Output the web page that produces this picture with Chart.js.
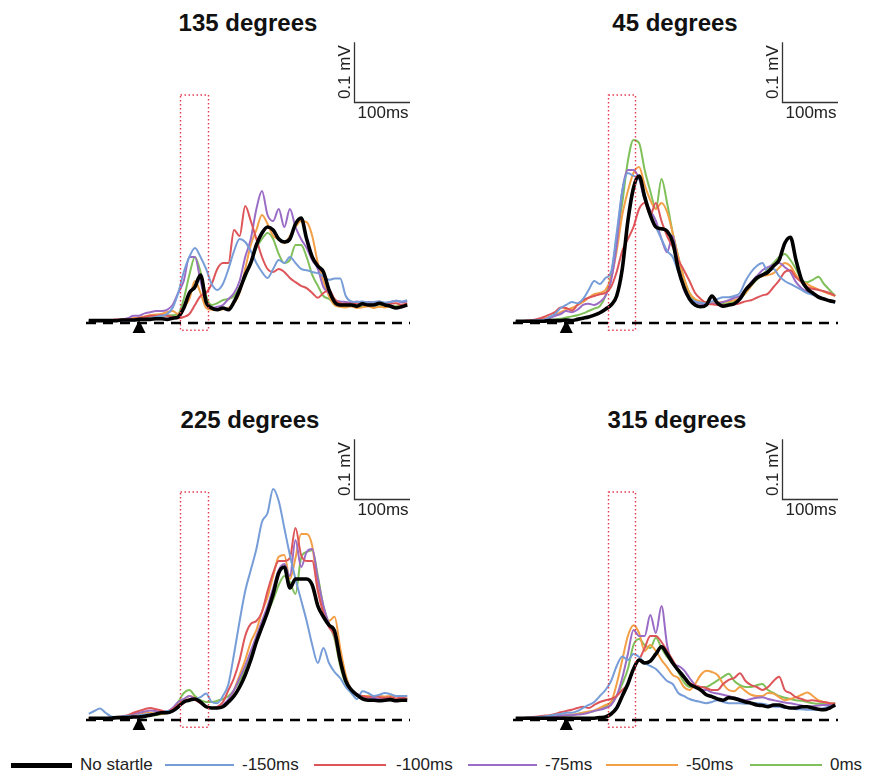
<!DOCTYPE html>
<html>
<head>
<meta charset="utf-8">
<script src="https://cdn.jsdelivr.net/npm/chart.js@4.4.1/dist/chart.umd.min.js"></script>
<style>
  body { margin: 0; background: #fff; }
  #page { position: relative; width: 889px; height: 780px; font-family: "Liberation Sans", Arial, sans-serif; }
  .title { position: absolute; width: 330px; text-align: center; font-weight: bold; font-size: 24px; line-height: 24px; color: #111; }
  canvas { position: absolute; }
  .leg-line { position: absolute; height: 2px; }
  .leg-text { position: absolute; font-size: 17px; line-height: 20px; color: #222; }
</style>
</head>
<body>
<div id="page">
  <div class="title" style="left:83px;top:11px">135 degrees</div>
  <div class="title" style="left:510px;top:11px">45 degrees</div>
  <div class="title" style="left:85px;top:408px">225 degrees</div>
  <div class="title" style="left:512px;top:408px">315 degrees</div>
  <canvas id="c135" width="324" height="315" style="left:86px;top:30px"></canvas>
  <canvas id="c45" width="325" height="315" style="left:513px;top:30px"></canvas>
  <canvas id="c225" width="324" height="315" style="left:86px;top:427px"></canvas>
  <canvas id="c315" width="325" height="315" style="left:513px;top:427px"></canvas>
  <div id="legend"></div>
</div>
<script>
// time axis (ms, stimulus at 0)
var timesMs = [-90,-80,-70,-60,-50,-40,-30,-20,-10,0,10,20,30,40,50,60,70,80,90,100,110,120,130,140,150,160,170,180,190,200,
  210,220,230,240,250,260,270,280,290,300,310,320,330,340,350,360,370,380,390,400,410,420,430,440,450,460,470,480];

var seriesNames = ['No startle', '-150ms', '-100ms', '-75ms', '-50ms', '0ms'];
var seriesColors = ['#000000', '#769dd8', '#de5559', '#9a6cc6', '#f39f45', '#80c05a'];

var startleWindowMs = [74, 123];
var scaleBarMs = [385, 485];
var scaleBarMv = [0.368, 0.468];

// EMG traces in mV, one array per condition
// 135 degrees
var p135_none = [0.004,0.004,0.004,0.004,0.004,0.004,0.005,0.005,0.005,0.006,0.006,0.006,0.007,0.007,0.006,0.008,0.010,0.025,0.050,0.060,
  0.080,0.035,0.025,0.022,0.025,0.022,0.035,0.055,0.080,0.100,0.130,0.150,0.160,0.155,0.140,0.135,0.140,0.165,0.175,0.140,
  0.110,0.095,0.085,0.055,0.035,0.030,0.030,0.030,0.028,0.032,0.030,0.030,0.033,0.030,0.028,0.025,0.027,0.030];
var p135_m150 = [0.004,0.004,0.004,0.004,0.004,0.004,0.004,0.004,0.004,0.005,0.006,0.008,0.010,0.012,0.015,0.025,0.050,0.085,0.110,0.125,
  0.110,0.090,0.065,0.055,0.065,0.090,0.120,0.140,0.135,0.120,0.100,0.085,0.075,0.090,0.105,0.100,0.110,0.100,0.090,0.088,
  0.085,0.083,0.078,0.072,0.074,0.074,0.045,0.036,0.035,0.036,0.034,0.035,0.036,0.034,0.035,0.037,0.036,0.038];
var p135_m100 = [0.004,0.004,0.005,0.005,0.005,0.006,0.006,0.006,0.007,0.008,0.010,0.012,0.012,0.013,0.012,0.010,0.008,0.010,0.015,0.030,
  0.045,0.050,0.065,0.090,0.100,0.100,0.155,0.145,0.195,0.170,0.140,0.110,0.090,0.085,0.090,0.085,0.075,0.068,0.062,0.058,
  0.050,0.042,0.050,0.055,0.040,0.033,0.032,0.032,0.033,0.031,0.032,0.033,0.032,0.031,0.032,0.033,0.030,0.032];
var p135_m75 = [0.004,0.004,0.004,0.005,0.005,0.005,0.006,0.008,0.012,0.012,0.016,0.018,0.020,0.020,0.022,0.030,0.050,0.070,0.110,0.110,
  0.070,0.035,0.025,0.027,0.030,0.040,0.050,0.070,0.110,0.140,0.190,0.220,0.180,0.170,0.190,0.160,0.190,0.160,0.140,0.125,
  0.105,0.090,0.060,0.050,0.037,0.036,0.035,0.034,0.036,0.033,0.035,0.034,0.036,0.033,0.035,0.037,0.034,0.036];
var p135_m50 = [0.003,0.003,0.004,0.004,0.004,0.005,0.006,0.007,0.008,0.009,0.011,0.013,0.014,0.015,0.018,0.020,0.015,0.025,0.040,0.070,
  0.050,0.025,0.022,0.022,0.023,0.025,0.033,0.050,0.090,0.130,0.155,0.180,0.165,0.145,0.140,0.133,0.145,0.160,0.170,0.168,
  0.145,0.100,0.070,0.045,0.030,0.027,0.026,0.028,0.025,0.026,0.028,0.025,0.027,0.026,0.028,0.026,0.030,0.033];
var p135_0 = [0.003,0.003,0.004,0.004,0.004,0.005,0.005,0.006,0.007,0.008,0.009,0.010,0.011,0.012,0.013,0.013,0.015,0.040,0.080,0.110,
  0.085,0.045,0.030,0.033,0.038,0.040,0.045,0.060,0.075,0.100,0.125,0.140,0.150,0.140,0.115,0.100,0.105,0.130,0.130,0.110,
  0.080,0.062,0.045,0.040,0.033,0.030,0.030,0.028,0.030,0.027,0.029,0.030,0.028,0.030,0.027,0.028,0.029,0.030];

// 45 degrees
var p45_none = [0.003,0.003,0.003,0.003,0.003,0.003,0.004,0.004,0.004,0.005,0.004,0.006,0.008,0.010,0.013,0.017,0.023,0.030,0.045,0.090,
  0.170,0.225,0.245,0.210,0.180,0.160,0.157,0.153,0.135,0.090,0.060,0.040,0.030,0.027,0.030,0.045,0.033,0.028,0.030,0.032,
  0.040,0.055,0.065,0.075,0.080,0.085,0.095,0.105,0.133,0.143,0.105,0.072,0.057,0.050,0.043,0.040,0.037,0.035];
var p45_m150 = [0.003,0.003,0.003,0.004,0.005,0.005,0.010,0.015,0.025,0.030,0.035,0.033,0.040,0.055,0.070,0.065,0.075,0.085,0.150,0.220,
  0.250,0.245,0.240,0.215,0.180,0.160,0.140,0.120,0.110,0.085,0.060,0.042,0.036,0.034,0.032,0.036,0.040,0.043,0.043,0.045,
  0.050,0.070,0.085,0.095,0.100,0.085,0.090,0.078,0.070,0.065,0.060,0.055,0.050,0.047,0.043,0.040,0.036,0.034];
var p45_m100 = [0.003,0.003,0.004,0.005,0.007,0.010,0.014,0.018,0.026,0.025,0.021,0.030,0.038,0.042,0.045,0.048,0.050,0.060,0.085,0.120,
  0.140,0.160,0.190,0.200,0.180,0.200,0.170,0.145,0.127,0.105,0.088,0.070,0.050,0.040,0.033,0.031,0.030,0.030,0.030,0.031,
  0.033,0.036,0.038,0.042,0.046,0.049,0.060,0.071,0.085,0.088,0.076,0.068,0.060,0.057,0.055,0.053,0.050,0.045];
var p45_m75 = [0.003,0.003,0.003,0.004,0.005,0.006,0.008,0.012,0.015,0.020,0.018,0.022,0.030,0.032,0.030,0.035,0.045,0.070,0.130,0.220,
  0.255,0.255,0.240,0.205,0.188,0.170,0.140,0.118,0.145,0.095,0.055,0.040,0.035,0.032,0.031,0.032,0.033,0.035,0.038,0.042,
  0.045,0.055,0.068,0.078,0.088,0.093,0.097,0.100,0.093,0.085,0.068,0.058,0.052,0.048,0.045,0.040,0.037,0.035];
var p45_m50 = [0.003,0.003,0.003,0.004,0.005,0.007,0.010,0.013,0.018,0.022,0.025,0.030,0.035,0.042,0.048,0.050,0.055,0.075,0.120,0.180,
  0.220,0.250,0.260,0.230,0.205,0.190,0.200,0.185,0.150,0.110,0.075,0.050,0.040,0.036,0.035,0.035,0.034,0.035,0.036,0.038,
  0.042,0.050,0.062,0.074,0.078,0.080,0.083,0.092,0.100,0.095,0.080,0.070,0.065,0.060,0.056,0.052,0.048,0.045];
var p45_0 = [0.003,0.003,0.003,0.003,0.004,0.004,0.005,0.006,0.007,0.009,0.011,0.013,0.016,0.020,0.024,0.028,0.045,0.080,0.140,0.200,
  0.270,0.305,0.300,0.255,0.220,0.190,0.240,0.200,0.150,0.110,0.075,0.050,0.037,0.033,0.032,0.032,0.033,0.032,0.033,0.035,
  0.040,0.050,0.062,0.072,0.080,0.090,0.100,0.110,0.115,0.105,0.090,0.072,0.068,0.072,0.077,0.065,0.055,0.045];

// 225 degrees
var p225_none = [0.003,0.003,0.003,0.003,0.003,0.004,0.004,0.004,0.005,0.005,0.006,0.008,0.010,0.012,0.012,0.015,0.022,0.030,0.033,0.035,
  0.030,0.022,0.020,0.020,0.022,0.030,0.040,0.055,0.075,0.100,0.130,0.155,0.180,0.210,0.245,0.255,0.220,0.235,0.235,0.235,
  0.225,0.190,0.172,0.158,0.148,0.100,0.065,0.050,0.042,0.035,0.033,0.033,0.032,0.033,0.034,0.032,0.033,0.033];
var p225_m150 = [0.010,0.015,0.019,0.012,0.006,0.005,0.006,0.007,0.007,0.008,0.009,0.010,0.010,0.012,0.015,0.015,0.020,0.030,0.033,0.035,
  0.038,0.044,0.030,0.028,0.040,0.060,0.110,0.165,0.215,0.250,0.285,0.330,0.345,0.385,0.365,0.320,0.275,0.235,0.200,0.165,
  0.125,0.095,0.120,0.095,0.080,0.070,0.055,0.045,0.035,0.048,0.045,0.040,0.042,0.045,0.043,0.040,0.040,0.040];
var p225_m100 = [0.003,0.003,0.003,0.003,0.004,0.005,0.006,0.008,0.012,0.015,0.018,0.020,0.018,0.016,0.014,0.018,0.025,0.028,0.035,0.033,
  0.028,0.022,0.020,0.022,0.030,0.050,0.070,0.100,0.140,0.160,0.165,0.180,0.215,0.245,0.265,0.265,0.270,0.320,0.275,0.265,
  0.265,0.215,0.178,0.155,0.140,0.095,0.065,0.050,0.043,0.040,0.038,0.040,0.038,0.037,0.038,0.036,0.037,0.036];
var p225_m75 = [0.003,0.003,0.003,0.003,0.004,0.004,0.005,0.006,0.010,0.012,0.014,0.016,0.015,0.013,0.014,0.020,0.030,0.035,0.040,0.035,
  0.028,0.022,0.020,0.020,0.025,0.035,0.050,0.070,0.090,0.115,0.140,0.165,0.190,0.220,0.250,0.260,0.240,0.300,0.255,0.280,
  0.285,0.235,0.190,0.160,0.140,0.100,0.065,0.048,0.040,0.038,0.036,0.037,0.035,0.036,0.035,0.034,0.036,0.035];
var p225_m50 = [0.003,0.003,0.003,0.003,0.004,0.004,0.005,0.006,0.008,0.010,0.012,0.012,0.010,0.010,0.012,0.016,0.025,0.033,0.040,0.037,
  0.030,0.022,0.020,0.020,0.022,0.030,0.050,0.075,0.100,0.130,0.150,0.180,0.205,0.240,0.272,0.275,0.235,0.270,0.310,0.310,
  0.290,0.220,0.185,0.165,0.172,0.120,0.075,0.050,0.043,0.040,0.040,0.039,0.040,0.039,0.040,0.040,0.039,0.040];
var p225_0 = [0.003,0.003,0.003,0.003,0.003,0.004,0.004,0.005,0.005,0.006,0.007,0.008,0.008,0.010,0.012,0.018,0.030,0.045,0.050,0.040,
  0.033,0.030,0.030,0.032,0.035,0.040,0.050,0.065,0.085,0.110,0.130,0.155,0.180,0.200,0.225,0.240,0.230,0.210,0.270,0.280,
  0.283,0.240,0.190,0.160,0.135,0.090,0.060,0.045,0.040,0.038,0.037,0.036,0.035,0.036,0.035,0.034,0.035,0.035];

// 315 degrees
var p315_none = [0.003,0.003,0.003,0.003,0.003,0.003,0.003,0.003,0.003,0.003,0.003,0.003,0.003,0.003,0.003,0.004,0.005,0.010,0.020,0.040,
  0.060,0.085,0.100,0.095,0.098,0.110,0.122,0.110,0.095,0.083,0.072,0.060,0.055,0.050,0.042,0.039,0.035,0.033,0.037,0.036,
  0.033,0.030,0.028,0.025,0.024,0.022,0.025,0.025,0.022,0.020,0.020,0.022,0.022,0.020,0.018,0.017,0.020,0.025];
var p315_m150 = [0.003,0.003,0.004,0.004,0.005,0.006,0.007,0.009,0.010,0.012,0.012,0.015,0.020,0.025,0.030,0.040,0.050,0.065,0.090,0.106,
  0.100,0.110,0.105,0.095,0.090,0.085,0.075,0.065,0.060,0.045,0.040,0.035,0.032,0.030,0.028,0.030,0.033,0.030,0.028,0.028,
  0.028,0.027,0.028,0.028,0.027,0.025,0.022,0.022,0.020,0.020,0.018,0.018,0.017,0.017,0.018,0.020,0.022,0.025];
var p315_m100 = [0.003,0.003,0.004,0.005,0.006,0.007,0.008,0.010,0.013,0.015,0.017,0.020,0.022,0.020,0.025,0.030,0.033,0.035,0.040,0.050,
  0.060,0.085,0.100,0.120,0.140,0.140,0.130,0.115,0.100,0.083,0.070,0.062,0.058,0.055,0.053,0.050,0.050,0.060,0.067,0.070,
  0.078,0.065,0.058,0.055,0.050,0.055,0.065,0.072,0.050,0.045,0.038,0.035,0.032,0.033,0.031,0.030,0.028,0.027];
var p315_m75 = [0.003,0.003,0.003,0.004,0.004,0.005,0.006,0.006,0.007,0.008,0.008,0.009,0.010,0.012,0.015,0.017,0.020,0.025,0.040,0.070,
  0.110,0.150,0.140,0.140,0.175,0.145,0.190,0.125,0.095,0.090,0.083,0.070,0.058,0.050,0.050,0.046,0.044,0.042,0.040,0.037,
  0.035,0.033,0.035,0.037,0.038,0.035,0.033,0.031,0.029,0.028,0.026,0.024,0.022,0.023,0.024,0.025,0.025,0.025];
var p315_m50 = [0.003,0.003,0.003,0.004,0.004,0.005,0.006,0.006,0.007,0.008,0.009,0.010,0.012,0.014,0.016,0.020,0.025,0.030,0.060,0.100,
  0.140,0.158,0.145,0.115,0.125,0.115,0.100,0.088,0.075,0.070,0.055,0.050,0.060,0.075,0.082,0.080,0.075,0.060,0.050,0.048,
  0.055,0.048,0.042,0.040,0.040,0.045,0.044,0.038,0.033,0.035,0.038,0.042,0.046,0.040,0.033,0.030,0.028,0.027];
var p315_0 = [0.003,0.003,0.003,0.003,0.004,0.004,0.005,0.005,0.006,0.007,0.008,0.010,0.012,0.013,0.015,0.018,0.022,0.030,0.040,0.060,
  0.085,0.125,0.135,0.125,0.120,0.137,0.120,0.105,0.095,0.080,0.063,0.055,0.055,0.055,0.055,0.060,0.066,0.072,0.077,0.065,
  0.058,0.055,0.055,0.058,0.060,0.050,0.045,0.040,0.037,0.035,0.033,0.032,0.030,0.028,0.027,0.027,0.027,0.028];

// ---- drawing ----
var panels = [
  { canvas: 'c135', series: [p135_none, p135_m150, p135_m100, p135_m75, p135_m50, p135_0] },
  { canvas: 'c45',  series: [p45_none, p45_m150, p45_m100, p45_m75, p45_m50, p45_0] },
  { canvas: 'c225', series: [p225_none, p225_m150, p225_m100, p225_m75, p225_m50, p225_0] },
  { canvas: 'c315', series: [p315_none, p315_m150, p315_m100, p315_m75, p315_m50, p315_0] }
];

// window box, baseline, stimulus marker and scale bar
var overlay = {
  id: 'overlay',
  afterDatasetsDraw: function(chart) {
    var ctx = chart.ctx, xs = chart.scales.x, ys = chart.scales.y;
    var y0 = ys.getPixelForValue(0);
    ctx.save();

    // startle window (dotted red)
    var bx1 = Math.round(xs.getPixelForValue(startleWindowMs[0])) + 0.5;
    var bx2 = Math.round(xs.getPixelForValue(startleWindowMs[1])) + 0.5;
    var by1 = ys.getPixelForValue(0.38), by2 = ys.getPixelForValue(-0.012);
    ctx.strokeStyle = '#e53a4e';
    ctx.lineWidth = 1.4;
    ctx.setLineDash([1.5, 2.5]);
    ctx.strokeRect(bx1, by1, bx2 - bx1, by2 - by1);

    // dashed zero line
    ctx.setLineDash([10, 7]);
    ctx.strokeStyle = '#000';
    ctx.lineWidth = 2.5;
    ctx.beginPath();
    ctx.moveTo(xs.left, y0);
    ctx.lineTo(xs.right, y0);
    ctx.stroke();
    ctx.setLineDash([]);

    // stimulus triangle
    var tx = xs.getPixelForValue(0);
    ctx.fillStyle = '#000';
    ctx.beginPath();
    ctx.moveTo(tx, y0 - 3);
    ctx.lineTo(tx + 6.5, y0 + 10);
    ctx.lineTo(tx - 6.5, y0 + 10);
    ctx.closePath();
    ctx.fill();

    // scale bar
    var sx1 = xs.getPixelForValue(scaleBarMs[0]), sx2 = xs.getPixelForValue(scaleBarMs[1]);
    var sy1 = ys.getPixelForValue(scaleBarMv[0]), sy2 = ys.getPixelForValue(scaleBarMv[1]);
    ctx.strokeStyle = '#333';
    ctx.lineWidth = 1.3;
    ctx.beginPath();
    ctx.moveTo(Math.round(sx1) + 0.5, sy2);
    ctx.lineTo(Math.round(sx1) + 0.5, Math.round(sy1) + 0.5);
    ctx.lineTo(sx2, Math.round(sy1) + 0.5);
    ctx.stroke();

    ctx.fillStyle = '#222';
    ctx.font = '17px "Liberation Sans", Arial, sans-serif';
    ctx.textAlign = 'center';
    ctx.textBaseline = 'top';
    ctx.fillText('100ms', (sx1 + sx2) / 2 + 1, sy1 + 3);

    ctx.translate(sx1 - 4, (sy1 + sy2) / 2);
    ctx.rotate(-Math.PI / 2);
    ctx.textBaseline = 'alphabetic';
    ctx.fillText('0.1 mV', 0, 0);
    ctx.restore();
  }
};

panels.forEach(function(p) {
  var ctx = document.getElementById(p.canvas).getContext('2d');
  var datasets = p.series.map(function(values, k) {
    return {
      label: seriesNames[k],
      data: values,
      borderColor: seriesColors[k],
      borderWidth: k === 0 ? 3.6 : 2,
      pointRadius: 0,
      fill: false,
      cubicInterpolationMode: 'monotone'
    };
  });
  new Chart(ctx, {
    type: 'line',
    data: { labels: timesMs, datasets: datasets },
    options: {
      responsive: false,
      animation: false,
      events: [],
      layout: { padding: 0 },
      plugins: { legend: { display: false }, tooltip: { enabled: false } },
      scales: {
        x: { type: 'linear', min: -95, max: 485, display: false },
        y: { min: -0.0367, max: 0.4883, display: false }
      }
    },
    plugins: [overlay]
  });
});

// legend along the bottom
var legendX = [[11, 72, 80], [165, 234, 242], [314, 386, 396], [468, 537, 545], [606, 678, 686], [750, 822, 830]];
var legend = document.getElementById('legend');
seriesNames.forEach(function(name, k) {
  var line = document.createElement('div');
  line.className = 'leg-line';
  line.style.left = legendX[k][0] + 'px';
  line.style.width = (legendX[k][1] - legendX[k][0]) + 'px';
  line.style.background = seriesColors[k];
  line.style.height = k === 0 ? '5px' : '2px';
  line.style.top = (k === 0 ? 763 : 764) + 'px';
  legend.appendChild(line);
  var txt = document.createElement('div');
  txt.className = 'leg-text';
  txt.style.left = legendX[k][2] + 'px';
  txt.style.top = '755px';
  txt.textContent = name;
  legend.appendChild(txt);
});
</script>
</body>
</html>
